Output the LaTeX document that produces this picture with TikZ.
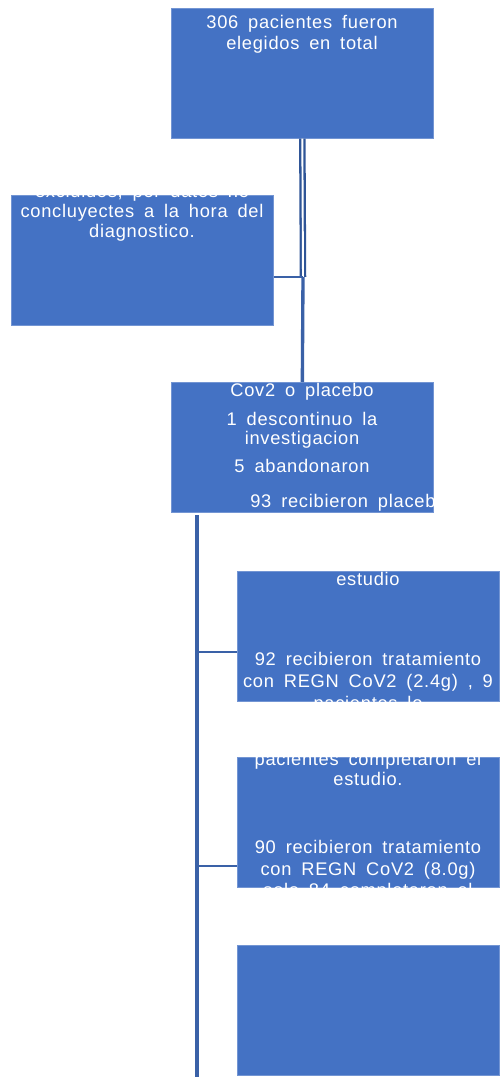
\documentclass[tikz,border=0pt]{standalone}
\usepackage{fontspec}
\usepackage{tikz}
\newfontfamily\cajafont{Liberation Sans}[LetterSpace=4,WordSpace=1.7]
\definecolor{cajaazul}{HTML}{4472C4}
\definecolor{lineaazul}{HTML}{2F5597}
\tikzset{
  caja/.style={fill=cajaazul, draw=cajaazul!75!white, line width=0.4pt, anchor=north west,
    minimum width=5.24cm, minimum height=2.6cm, inner sep=0pt},
  txt/.style={text=white, anchor=base, inner sep=0pt, font=\cajafont\fontsize{10.4}{12}\selectfont},
  conector/.style={draw=cajaazul!85!black, line width=1.9pt},
  rama/.style={draw=cajaazul!85!black, line width=1.4pt},
  doble/.style={draw=lineaazul, line width=1.3pt, double=white, double distance=1.1pt}
}

\begin{document}
\begin{tikzpicture}[x=0.02cm,y=-0.02cm]
\useasboundingbox (0,0) rectangle (500,1077);

% cajas
\node[caja] (elegidos) at (171,8) {};
\node[caja] (excluidos) at (11,195) {};
\node[caja] (aleatorio) at (171,382) {};
\node[caja] (dosis24) at (237,571) {};
\node[caja] (dosis80) at (237,757) {};
\node[caja] (vacio) at (237,945) {};

% conectores
\coordinate (cruce) at (303,277);
\draw[doble] (elegidos.south) -- (cruce);
\draw[conector] (cruce) -- (aleatorio.north);
\draw[rama] (cruce -| excluidos.east) -- (cruce);

\coordinate (tronco) at (197,515);
\coordinate (fin) at (197,1077);
\draw[conector] (tronco) -- (fin);
\coordinate (rama24) at (197,652);
\coordinate (rama80) at (197,866);
\draw[rama] (rama24) -- (rama24 -| dosis24.west);
\draw[rama] (rama80) -- (rama80 -| dosis80.west);

% textos
\foreach \y/\t [count=\i] in {29/306 pacientes fueron, 50/elegidos en total}
  \node[txt] (t-elegidos-\i) at (302,\y) {\t};

\foreach \y/\t [count=\i] in {{198/excluidos, por datos no}, 218/concluyectes a la hora del, 238/diagnostico.}
  \node[txt] (t-excluidos-\i) at (142,\y) {\t};

\foreach \y/\t [count=\i] in {397/Cov2 o placebo, 425/1 descontinuo la, 444/investigacion, 472/5 abandonaron}
  \node[txt] (t-aleatorio-\i) at (302,\y) {\t};
\node[txt, anchor=base west] (t-placebo) at (250,507) {93 recibieron placebo};

\foreach \y/\t [count=\i] in {585/estudio, 665/92 recibieron tratamiento, {687/con REGN CoV2 (2.4g) , 9}, 709/pacientes lo}
  \node[txt] (t-dosis24-\i) at (368,\y) {\t};

\foreach \y/\t [count=\i] in {765/pacientes completaron el, 785/estudio., 853/90 recibieron tratamiento, 875/con REGN CoV2 (8.0g), 896/solo 84 completaron el}
  \node[txt] (t-dosis80-\i) at (368,\y) {\t};

\end{tikzpicture}
\end{document}
